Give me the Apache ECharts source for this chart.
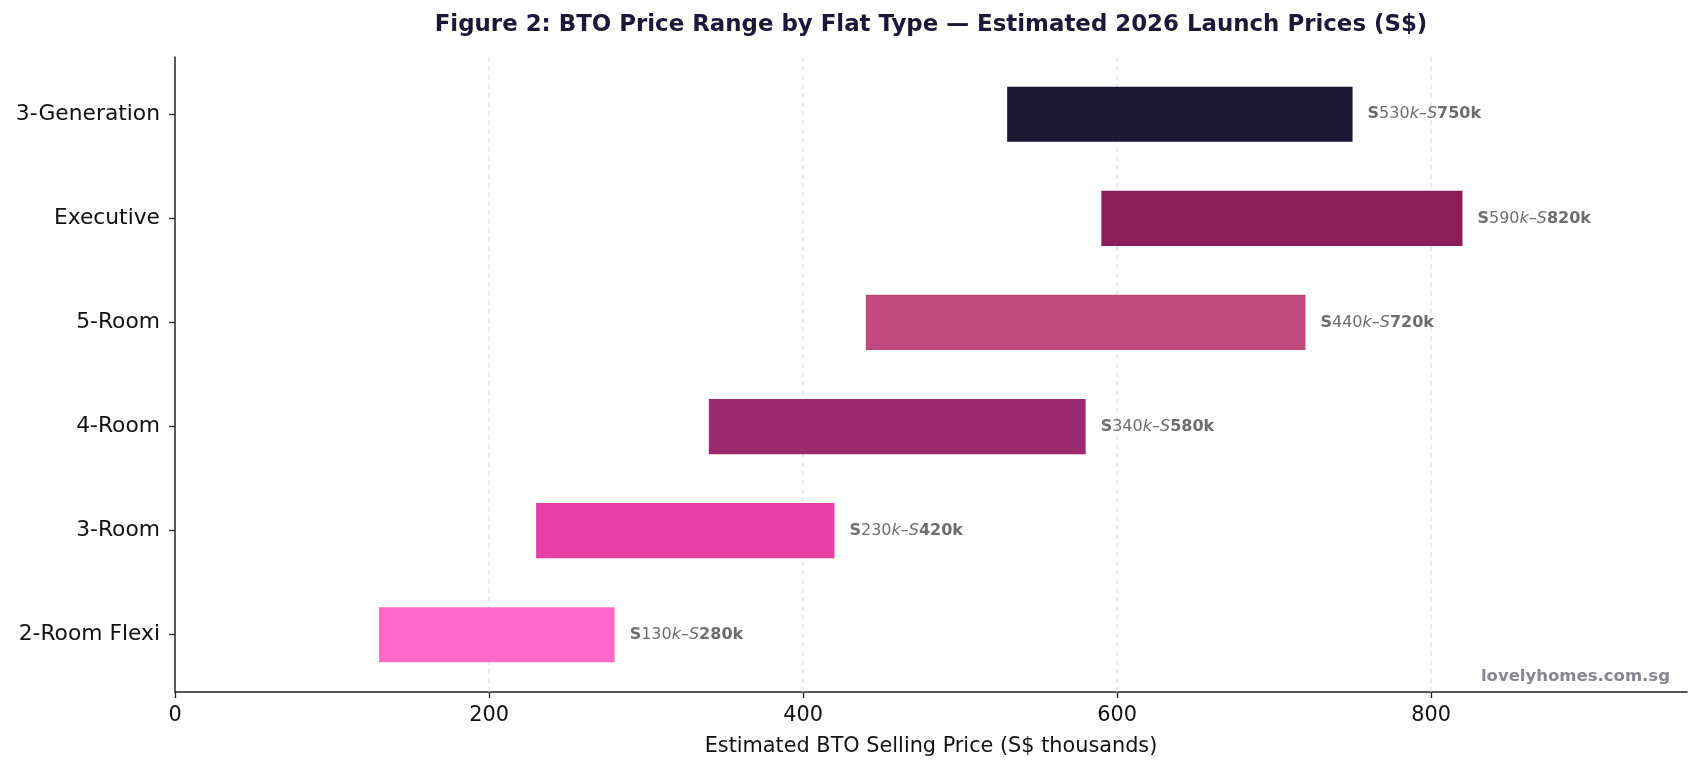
<!DOCTYPE html>
<html>
<head>
<meta charset="utf-8">
<script src="https://cdn.jsdelivr.net/npm/echarts@6/dist/echarts.min.js"></script>
<style>
html,body{margin:0;padding:0;background:#fff;}
#chart{width:1700px;height:771px;}
</style>
</head>
<body>
<div id="chart"></div>
<script>
// Data (bottom to top)
const categories = ['2-Room Flexi', '3-Room', '4-Room', '5-Room', 'Executive', '3-Generation'];
const lowPrices  = [130, 230, 340, 440, 590, 530];
const highPrices = [280, 420, 580, 720, 820, 750];
const barColors  = ['#ff69c6', '#e641a2', '#9b2a70', '#c0487a', '#8b1d58', '#1d1836'];
const xTicks = [0, 200, 400, 600, 800];

const FONT = 'DejaVu Sans';
const chart = echarts.init(document.getElementById('chart'), null, {renderer: 'canvas'});

const rangeData = categories.map((c, i) => [i, lowPrices[i], highPrices[i]]);
const labelData = categories.map((c, i) => ({
  value: [highPrices[i], i],
  low: lowPrices[i],
  high: highPrices[i]
}));

const option = {
  backgroundColor: '#ffffff',
  animation: false,
  grid: {left: 175, right: 13, top: 57, bottom: 79, containLabel: false},
  graphic: [
    {
      type: 'text', x: 931, y: 25,
      style: {
        text: 'Figure 2: BTO Price Range by Flat Type — Estimated 2026 Launch Prices (S$)',
        font: 'bold 22.9px "DejaVu Sans"', fill: '#1c1836',
        textAlign: 'center', textVerticalAlign: 'middle'
      }
    },
    {
      type: 'text', x: 1670, y: 677,
      style: {
        text: 'lovelyhomes.com.sg',
        font: 'bold 16.5px "DejaVu Sans"', fill: '#868690',
        textAlign: 'right', textVerticalAlign: 'middle'
      }
    }
  ],
  xAxis: {
    type: 'value', min: 0, max: 963,
    name: 'Estimated BTO Selling Price (S$ thousands)',
    nameLocation: 'middle', nameGap: 44,
    nameTextStyle: {fontFamily: FONT, fontSize: 20.8, color: '#111'},
    axisLine: {show: true, onZero: false, lineStyle: {color: '#222', width: 1.5}},
    axisTick: {show: true, length: 6, lineStyle: {color: '#222', width: 1.3}, customValues: xTicks},
    axisLabel: {fontFamily: FONT, fontSize: 20.8, color: '#111', margin: 13, customValues: xTicks},
    splitLine: {show: false}
  },
  yAxis: {
    type: 'value', min: -0.55, max: 5.55,
    axisLine: {show: true, onZero: false, lineStyle: {color: '#222', width: 1.5}},
    axisTick: {show: true, length: 6, lineStyle: {color: '#222', width: 1.3},
      customValues: categories.map((c, i) => i)},
    axisLabel: {fontFamily: FONT, fontSize: 21.8, color: '#111', margin: 15,
      customValues: categories.map((c, i) => i),
      formatter: v => categories[Math.round(v)] || ''},
    splitLine: {show: false}
  },
  series: [
    {
      type: 'custom',
      silent: true,
      z: 1,
      renderItem: function (params, api) {
        const x = api.value(0);
        const p1 = api.coord([x, -0.55]);
        const p2 = api.coord([x, 5.55]);
        return {
          type: 'line',
          shape: {x1: p1[0], y1: p1[1], x2: p2[0], y2: p2[1]},
          style: {stroke: '#e0e0e0', lineWidth: 1.2, lineDash: [5, 4]}
        };
      },
      data: xTicks.filter(v => v > 0).map(v => [v]),
      encode: {x: 0}
    },
    {
      type: 'custom',
      z: 2,
      renderItem: function (params, api) {
        const idx = api.value(0);
        const p1 = api.coord([api.value(1), idx]);
        const p2 = api.coord([api.value(2), idx]);
        const h = api.size([0, 0.53])[1];
        return {
          type: 'rect',
          shape: {x: p1[0], y: p1[1] - h / 2, width: p2[0] - p1[0], height: h},
          style: {fill: barColors[idx]}
        };
      },
      data: rangeData,
      encode: {x: [1, 2], y: 0}
    },
    {
      type: 'scatter',
      symbolSize: 0,
      z: 3,
      silent: true,
      data: labelData,
      label: {
        show: true, position: 'right', distance: 15,
        formatter: p => '{b|S}{r|' + p.data.low + '}{i|k–S}{b|' + p.data.high + 'k}',
        rich: {
          b: {fontFamily: FONT, fontWeight: 'bold', fontSize: 16, color: '#484848'},
          r: {fontFamily: FONT, fontWeight: 'normal', fontSize: 16, color: '#484848'},
          i: {fontFamily: FONT, fontStyle: 'italic', fontSize: 16, color: '#484848'}
        }
      }
    }
  ]
};
chart.setOption(option);
</script>
</body>
</html>
